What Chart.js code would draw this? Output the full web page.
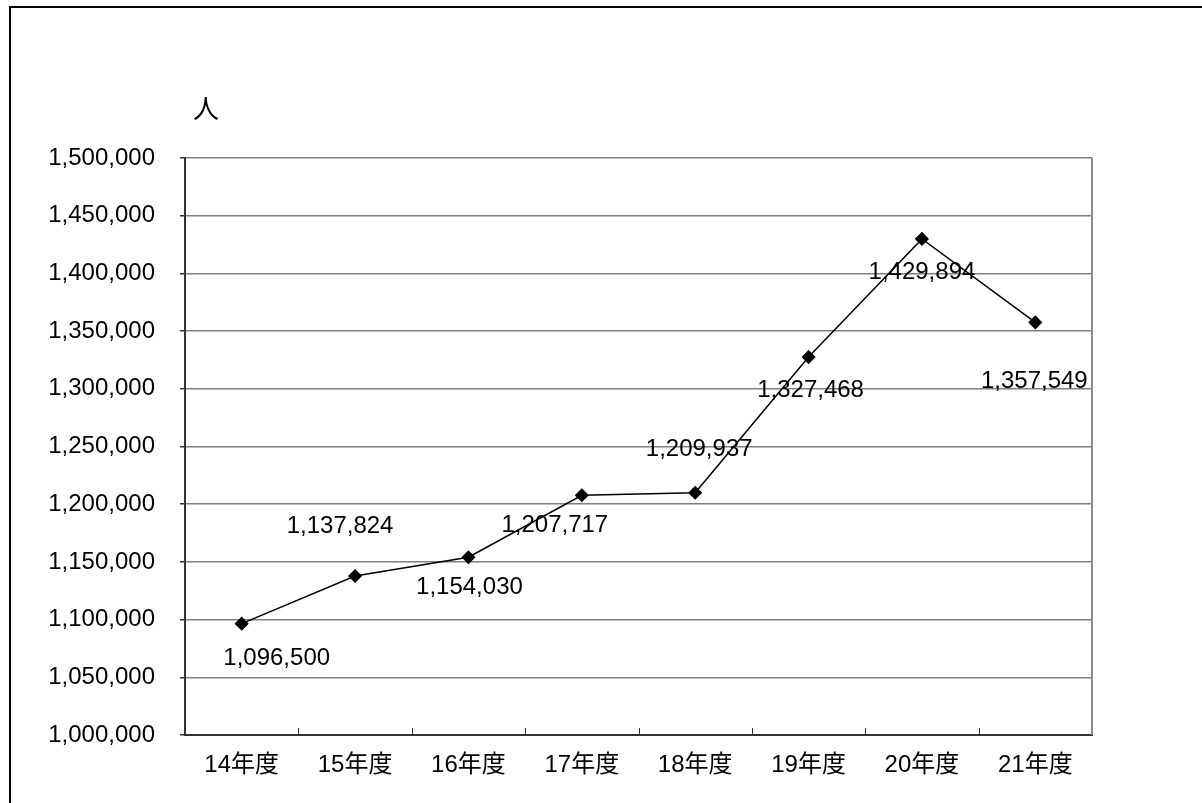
<!DOCTYPE html>
<html>
<head>
<meta charset="utf-8">
<script src="https://cdn.jsdelivr.net/npm/chart.js@4.4.0/dist/chart.umd.min.js"></script>
<style>
body{margin:0;background:#fff;overflow:hidden;}
#frame{position:absolute;left:9px;top:6px;width:1300px;height:900px;border-left:2px solid #000;border-top:2px solid #000;}
#wrap{position:absolute;left:0;top:0;width:1202px;height:803px;}
</style>
</head>
<body>
<div id="frame"></div>
<div id="wrap"><canvas id="chart" width="1202" height="803"></canvas></div>
<script>
// DATA
const years=['14年度','15年度','16年度','17年度','18年度','19年度','20年度','21年度'];
const visitors=[1096500,1137824,1154030,1207717,1209937,1327468,1429894,1357549];
const yMin=1000000,yMax=1500000,yStep=50000;
const unitLabel='人';

const FONT='"Liberation Sans", Arial, "Noto Sans CJK JP", sans-serif';

// label placement (dx, dy from the point), like the excel original
const labelOffsets=[[35,35],[-15,-50],[1,30],[-27,30],[4,-43],[2,33],[0,33],[-1,59]];

const extras={
  id:'extras',
  afterDraw(chart){
    const c=chart.ctx, a=chart.chartArea, xs=chart.scales.x;
    c.save();
    // right border
    c.strokeStyle='#8c8c8c';c.lineWidth=2;
    c.beginPath();c.moveTo(a.right,a.top);c.lineTo(a.right,a.bottom);c.stroke();
    // category tick marks pointing inward
    c.strokeStyle='#333';c.lineWidth=1;
    for(let i=1;i<years.length;i++){
      const x=Math.round((xs.getPixelForValue(i-1)+xs.getPixelForValue(i))/2)+0.5;
      c.beginPath();c.moveTo(x,a.bottom);c.lineTo(x,a.bottom-7);c.stroke();
    }
    // unit label
    c.fillStyle='#000';c.font='26px "Noto Sans CJK JP"';c.textAlign='center';c.textBaseline='middle';
    c.fillText(unitLabel,a.left+21,a.top-50);
    // value labels
    const meta=chart.getDatasetMeta(0);
    c.font='24px '+FONT;
    meta.data.forEach((p,i)=>{
      const o=labelOffsets[i];
      c.fillText(visitors[i].toLocaleString('en-US'),p.x+o[0],p.y+o[1]);
    });
    c.restore();
  }
};

const ctx=document.getElementById('chart').getContext('2d');
new Chart(ctx,{
  type:'line',
  data:{
    labels:years,
    datasets:[{
      data:visitors,
      borderColor:'#000',
      backgroundColor:'#000',
      borderWidth:1.5,
      pointStyle:'rectRot',
      pointRadius:6,
      pointHoverRadius:6,
      tension:0,
      fill:false
    }]
  },
  options:{
    responsive:false,
    animation:false,
    layout:{padding:{top:158,right:110,left:0,bottom:0}},
    plugins:{legend:{display:false},tooltip:{enabled:false}},
    scales:{
      x:{
        offset:true,
        grid:{display:true,drawOnChartArea:false,drawTicks:false},
        border:{color:'#333',width:2},
        ticks:{color:'#000',font:{family:FONT,size:24},padding:16,maxRotation:0},
        afterFit(s){s.height=68;}
      },
      y:{
        min:yMin,max:yMax,
        grid:{color:'#808080',lineWidth:1.5,tickLength:5,tickColor:'#333'},
        border:{color:'#333',width:2},
        ticks:{stepSize:yStep,color:'#000',padding:25,font:{family:FONT,size:24},
          callback:v=>v.toLocaleString('en-US')},
        afterFit(s){s.width=185;}
      }
    }
  },
  plugins:[extras]
});
</script>
</body>
</html>
